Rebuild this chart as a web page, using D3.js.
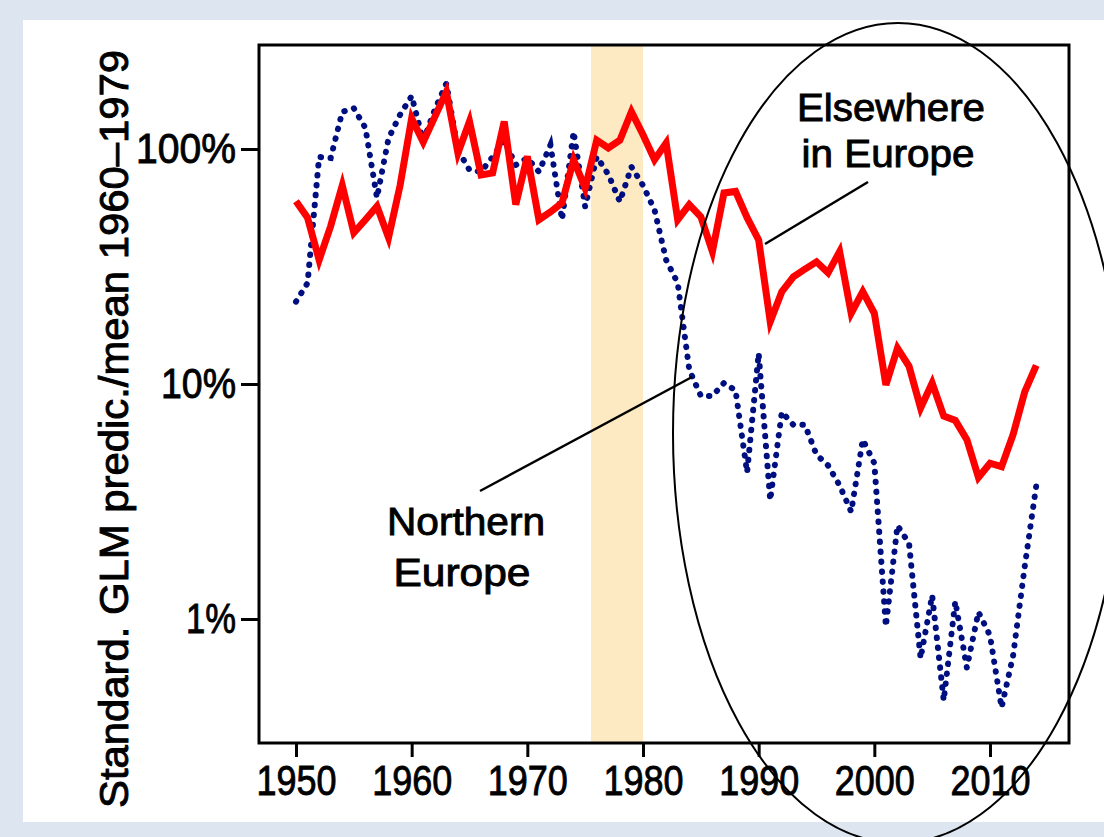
<!DOCTYPE html>
<html>
<head>
<meta charset="utf-8">
<script src="https://cdn.jsdelivr.net/npm/d3@7"></script>
<style>
  html, body { margin: 0; padding: 0; background: #dce5f0; }
  svg { display: block; }
  text { font-family: "Liberation Sans", Arial, Helvetica, sans-serif; fill: #000; stroke: #000; stroke-width: 0.9px; }
</style>
</head>
<body>
<script>
// years 1950..2014
const years = d3.range(1950, 2015);

// Elsewhere in Europe (red, solid), % of 1960-1979 mean
const elsewhere = [60, 51, 33.7, 47, 70, 44, 50, 57, 42, 70,
  135, 107, 137, 175, 96, 131, 77.5, 79, 131, 58,
  93, 50, 54, 59, 90, 68, 109, 101, 109, 144,
  115, 90, 106, 50, 58, 51.5, 36.6, 65, 66, 51,
  41, 18.4, 24.7, 28.6, 30.8, 33.1, 29.7, 36.6, 20, 24.7,
  20, 9.9, 14.2, 11.9, 7.9, 10.1, 7.3, 7.0, 5.8, 4.0,
  4.6, 4.45, 6.1, 9.25, 12];

// Northern Europe (blue, dotted)
const northern = [22.4, 26.9, 92.5, 91.5, 144, 149, 123, 62, 111, 140,
  168, 108, 147, 190, 99, 81.4, 80, 92.5, 109, 85.5,
  91.5, 80, 104, 50, 118.5, 56.8, 92.7, 78, 59.7, 84,
  70, 55, 33.7, 26.9, 11.5, 8.9, 8.9, 10.1, 9.4, 4.2,
  13.5, 3.2, 7.6, 6.7, 6.7, 5.0, 4.5, 3.7, 2.86, 5.8,
  4.6, 0.93, 2.5, 2.1, 0.68, 1.26, 0.45, 1.19, 0.62, 1.07,
  0.85, 0.42, 0.7, 1.67, 3.7];

const xTicks = [1950, 1960, 1970, 1980, 1990, 2000, 2010];
const yTicks = [1, 10, 100];
const yTickLabels = ['1%', '10%', '100%'];
const band = [1975.5, 1980];

const width = 1104, height = 837;
const box = {left: 259, right: 1069, top: 45, bottom: 743};

const x = d3.scaleLinear().domain([1950, 2010]).range([296, 990]);
const y = d3.scaleLog().domain([1, 100]).range([619, 149]);

const svg = d3.select('body').append('svg')
  .attr('width', width).attr('height', height);

// white panel
svg.append('rect').attr('x', 23).attr('y', 20)
  .attr('width', 1081).attr('height', 802).attr('fill', '#fff');

// shaded 1976-1980 period
svg.append('rect')
  .attr('x', x(band[0])).attr('y', box.top)
  .attr('width', x(band[1]) - x(band[0]))
  .attr('height', box.bottom - box.top)
  .attr('fill', '#fde9c2');

const line = (vals) => d3.line()
  .x((d, i) => x(years[i]))
  .y(d => y(d))(vals);

svg.append('path').attr('d', line(northern))
  .attr('fill', 'none').attr('stroke', '#000f80')
  .attr('stroke-width', 6).attr('stroke-linecap', 'round')
  .attr('stroke-dasharray', '0.5 9.5');

svg.append('path').attr('d', line(elsewhere))
  .attr('fill', 'none').attr('stroke', '#ff0000')
  .attr('stroke-width', 7).attr('stroke-linejoin', 'miter');

// frame
svg.append('rect')
  .attr('x', box.left).attr('y', box.top)
  .attr('width', box.right - box.left).attr('height', box.bottom - box.top)
  .attr('fill', 'none').attr('stroke', '#000').attr('stroke-width', 3);

const xAxis = d3.axisBottom(x).tickValues(xTicks).tickFormat(d3.format('d'))
  .tickSize(14).tickPadding(8);
const gx = svg.append('g').attr('transform', `translate(0,${box.bottom})`).call(xAxis);
gx.select('.domain').remove();
gx.selectAll('line').attr('stroke-width', 3);
gx.selectAll('text').attr('font-size', 42).attr('font-family', null)
  .attr('textLength', 80).attr('lengthAdjust', 'spacingAndGlyphs');

const yAxis = d3.axisLeft(y).tickValues(yTicks)
  .tickFormat((d, i) => yTickLabels[i]).tickSize(18).tickPadding(5);
const gy = svg.append('g').attr('transform', `translate(${box.left},0)`).call(yAxis);
gy.select('.domain').remove();
gy.selectAll('line').attr('stroke-width', 3);
gy.selectAll('text').attr('font-size', 42).attr('font-family', null)
  .attr('textLength', (d) => d === 100 ? 100 : d === 10 ? 75 : 50)
  .attr('lengthAdjust', 'spacingAndGlyphs');

svg.append('text')
  .attr('transform', 'translate(128,429) rotate(-90)')
  .attr('text-anchor', 'middle').attr('font-size', 40)
  .attr('textLength', 758).attr('lengthAdjust', 'spacingAndGlyphs')
  .text('Standard. GLM predic./mean 1960\u20131979');

// annotations
const note = (txt, cx, by, len) => svg.append('text')
  .attr('x', cx).attr('y', by).attr('text-anchor', 'middle')
  .attr('font-size', 38).attr('textLength', len)
  .attr('lengthAdjust', 'spacingAndGlyphs').text(txt);
note('Elsewhere', 891, 121, 188);
note('in Europe', 888, 167, 173);
note('Northern', 466, 535, 158);
note('Europe', 462, 586, 137);

svg.append('line').attr('x1', 765).attr('y1', 244).attr('x2', 868).attr('y2', 182)
  .attr('stroke', '#000').attr('stroke-width', 2.5);
svg.append('line').attr('x1', 480).attr('y1', 491).attr('x2', 692).attr('y2', 377)
  .attr('stroke', '#000').attr('stroke-width', 2.5);

// circled region
svg.append('ellipse').attr('cx', 898).attr('cy', 433).attr('rx', 225).attr('ry', 410)
  .attr('fill', 'none').attr('stroke', '#000').attr('stroke-width', 2);
</script>
</body>
</html>
